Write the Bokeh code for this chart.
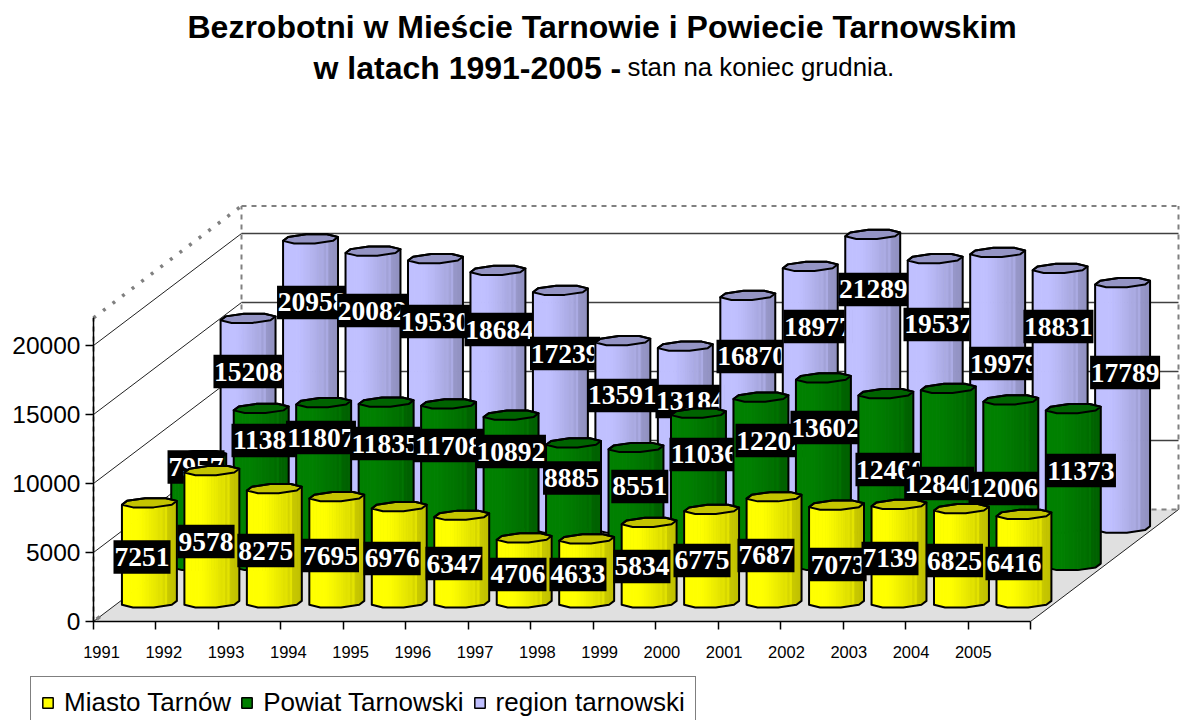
import numpy as np
from bokeh.core.properties import value
from bokeh.embed import file_html
from bokeh.models import (BasicTickFormatter, FixedTicker, Label, Legend, LegendItem,
                          LinearAxis, Range1d)
from bokeh.plotting import figure
from bokeh.resources import INLINE

YEARS = list(range(1991, 2006))
MIASTO = [7251, 9578, 8275, 7695, 6976, 6347, 4706, 4633, 5834, 6775, 7687, 7073, 7139, 6825, 6416]
POWIAT = [7957, 11380, 11807, 11835, 11708, 10892, 8885, 8551, 11036, 12202, 13602, 12460, 12840, 12006, 11373]
REGION = [15208, 20958, 20082, 19530, 18684, 17239, 13591, 13184, 16870, 18977, 21289, 19537, 19979, 18831, 17789]
VALUE_TICKS = [0, 5000, 10000, 15000, 20000]
AXIS_MAX = 22000

# hand-moved data labels of the original: shift in pixels from the middle of each cylinder
MIASTO_DX = [-7.4, -5.8, -8.5, -6.3, -7.1, -7.8, -6.2, -8.7, -7.2, -9.6, -8.1, 1.6, -9, -7, -10]
MIASTO_DY = [4.2, 4.8, 4.8, 5.8, 3.8, 4.5, 4.1, 3.6, 3.9, 4.4, 5.7, 10.5, 4.9, 4.8, 4.9]
POWIAT_DX = [-2.7, 5.3, -2.7, -.9, -.1, -.1, -2, 3.8, 6, 9.6, 2.1, 4.6, -9.1, -7.3, 7.7]
POWIAT_DY = [-43.6, -46.5, -46.5, -40.3, -39.2, -38.8, -26.2, -20, -34.9, -40.8, -44.1, -10, 6.6, 5.8, -16.5]
REGION_DX = [.4, 1.5, -.8, -.3, 1.6, 4.6, -.4, 5.1, 3.7, 8.2, .7, 3.3, 6.8, -1.7, 2.5]
REGION_DY = [-51.7, -81.1, -79.1, -71.9, -69.7, -55.7, -38.9, -35.7, -55.3, -70.7, -91.8, -68.9, -26.8, -71.7, -32.9]

W, H = 1183, 720
LEFT, BOTTOM = 93.0, 621.0            # canvas pixels of the front-left floor corner
SX = 937 / 15                         # pixels per category
SY = 276 / 20000                      # pixels per unit of value
DEPTH_X, DEPTH_Y = 148 / SX, 112 / SY # full floor depth in data units


def px_x(px):
    return (px - LEFT) / SX


def px_y(py):
    return (BOTTOM - py) / SY


p = figure(width=W, height=H, output_backend="svg", toolbar_location=None,
           x_axis_type=None, y_axis_type=None,
           x_range=Range1d(px_x(0), px_x(W)),
           y_range=Range1d(px_y(H), px_y(0)),
           min_border_left=0, min_border_right=0, min_border_top=0, min_border_bottom=0)
p.outline_line_color = None
p.background_fill_color = "white"
p.border_fill_color = "white"

# axes
yax = LinearAxis(fixed_location=0, ticker=FixedTicker(ticks=VALUE_TICKS), bounds=(0, AXIS_MAX),
                 major_tick_in=0, major_tick_out=8, minor_tick_line_color=None,
                 major_label_standoff=5, major_label_text_font="Liberation Sans",
                 major_label_text_font_size="24.5px", major_label_text_color="black",
                 axis_line_color="black", axis_line_width=1.5, major_tick_line_color="black",
                 major_tick_line_width=1.5)
p.add_layout(yax, "left")
tick_ax = LinearAxis(fixed_location=0, ticker=FixedTicker(ticks=list(range(16))), bounds=(0, 15),
                     major_tick_in=0, major_tick_out=8, minor_tick_line_color=None,
                     major_label_text_font_size="0px", major_label_standoff=0,
                     major_label_text_color=None,
                     axis_line_color="black", axis_line_width=1.5, major_tick_line_color="black",
                     major_tick_line_width=1.5)
p.add_layout(tick_ax, "below")
YEAR_STEP = 62.27
p.extra_x_ranges["years"] = Range1d(YEARS[0] - 101 / YEAR_STEP, YEARS[0] + (W - 101) / YEAR_STEP)
year_ax = LinearAxis(fixed_location=0, x_range_name="years", ticker=FixedTicker(ticks=YEARS),
                     formatter=BasicTickFormatter(use_scientific=False, precision=0),
                     axis_line_color=None, major_tick_line_color=None, minor_tick_line_color=None,
                     major_tick_in=0, major_tick_out=0, major_label_standoff=24,
                     major_label_text_font="Liberation Sans", major_label_text_font_size="16.5px",
                     major_label_text_color="black")
p.add_layout(year_ax, "below")

# walls, floor
GRAY = "#808080"
p.patch([0, 15, 15 + DEPTH_X, DEPTH_X], [0, 0, DEPTH_Y, DEPTH_Y], fill_color="#E0E0E0", line_color=None)
dash = dict(line_color=GRAY, line_width=2, line_dash="5 5")
p.line([DEPTH_X, 15 + DEPTH_X], [AXIS_MAX + DEPTH_Y] * 2, **dash)
p.line([15 + DEPTH_X] * 2, [DEPTH_Y, AXIS_MAX + DEPTH_Y], **dash)
p.line([DEPTH_X] * 2, [DEPTH_Y, AXIS_MAX + DEPTH_Y], **dash)
p.line([DEPTH_X, 15 + DEPTH_X], [DEPTH_Y, DEPTH_Y], **dash)
p.line([0, DEPTH_X], [AXIS_MAX, AXIS_MAX + DEPTH_Y], line_color=GRAY, line_width=3.5, line_dash="3 9")
p.line([0, 0], [0, AXIS_MAX], **dash)
for t in VALUE_TICKS:
    p.line([0, DEPTH_X], [t, t + DEPTH_Y], line_color="#202020", line_width=1)
    if t:
        p.line([DEPTH_X, 15 + DEPTH_X], [t + DEPTH_Y] * 2, line_color="#404040", line_width=1.3)
p.line([15, 15 + DEPTH_X], [0, DEPTH_Y], line_color="#202020", line_width=1)
p.line([0, DEPTH_X], [0, DEPTH_Y], line_color=GRAY, line_width=3.5, line_dash="4 1000", line_dash_offset=-4)

# cylinder shape
ANG = np.radians(22.5 + 45 * np.arange(8))
RX = 27 / SX
RD = 6.6 / 148
RIM_X = RX * np.cos(ANG) + RD * DEPTH_X * np.sin(ANG)
RIM_Y = RD * DEPTH_Y * np.sin(ANG)
LOWER = [4, 5, 6, 7, 0]     # left extreme to right extreme, along the front
UPPER = [1, 2, 3]           # back of the rim, right to left
SHADE_F = [0, .30, .42, .58, .70, .715, .735, .80, .815, .83, 1]
SHADE_V = [1, 1, .97, .92, .88, .96, .86, .83, .90, .79, .75]
EDGES = np.linspace(0, 1, 25)
TOP_FACTOR = .77


def shade(rgb, k):
    return "#%02x%02x%02x" % tuple(int(round(c * k)) for c in rgb)


def draw_series(values, frac, rgb, dxs, dys):
    for i, v in enumerate(values):
        cx = i + .5 + frac * DEPTH_X
        base = frac * DEPTH_Y
        xs, ys, fills, lines, widths, alphas = [], [], [], [], [], []
        chain_x = cx + RIM_X[LOWER]
        chain_y = base + RIM_Y[LOWER]
        x0, x1 = chain_x[0], chain_x[-1]
        for a, b in zip(EDGES[:-1], EDGES[1:]):
            xa, xb = x0 + a * (x1 - x0), x0 + b * (x1 - x0)
            ya, yb = np.interp([xa, xb], chain_x, chain_y)
            xs.append([xa, xb, xb, xa])
            ys.append([ya, yb, yb + v, ya + v])
            c = shade(rgb, float(np.interp((a + b) / 2, SHADE_F, SHADE_V)))
            fills.append(c); lines.append(c); widths.append(1); alphas.append(1)
        xs.append(list(cx + RIM_X))
        ys.append(list(base + v + RIM_Y))
        fills.append(shade(rgb, TOP_FACTOR)); lines.append("black"); widths.append(2); alphas.append(1)
        # silhouette: front of the foot, then the back of the rim
        xs.append(list(chain_x) + [chain_x[-1]] + list(cx + RIM_X[UPPER]) + [chain_x[0]])
        ys.append(list(chain_y) + [chain_y[-1] + v] + list(base + v + RIM_Y[UPPER]) + [chain_y[0] + v])
        fills.append("black"); lines.append("black"); widths.append(2); alphas.append(0)
        p.patches(xs="xs", ys="ys", source=dict(xs=xs, ys=ys, fc=fills, lc=lines, lw=widths, fa=alphas),
                  fill_color="fc", line_color="lc", line_width="lw", fill_alpha="fa", line_join="round")
        lx = cx + dxs[i] / SX
        ly = base + v / 2 - dys[i] / SY
        label = str(v)
        p.rect(x=[lx], y=[ly], width=[14 * len(label) + (1 if len(label) == 4 else 0)], height=[33.5],
               width_units="screen", height_units="screen", fill_color="black", line_color=None)
        p.text(x=[lx], y=[ly], text=[label], text_color="white", text_font=value("Liberation Serif"),
               text_font_style="bold", text_font_size="27.5px", text_align="center", text_baseline="middle")


draw_series(REGION, 5 / 6, (192, 192, 255), REGION_DX, REGION_DY)
draw_series(POWIAT, 3 / 6, (0, 128, 0), POWIAT_DX, POWIAT_DY)
draw_series(MIASTO, 1 / 6, (255, 255, 0), MIASTO_DX, MIASTO_DY)

# legend
items = []
nan = float("nan")
for name, col in (("Miasto Tarnów", "#FFFF00"), ("Powiat Tarnowski", "#008000"), ("region tarnowski", "#C0C0FF")):
    r = p.quad(left=[nan], right=[nan], top=[nan], bottom=[nan], fill_color=col, line_color="black", line_width=1.5)
    items.append(LegendItem(label=name, renderers=[r]))
legend = Legend(items=items, orientation="horizontal", location=(30, -9),
                margin=0, padding=10, spacing=9, glyph_width=13, glyph_height=13, label_standoff=10,
                label_height=24, label_text_font="Liberation Sans", label_text_font_size="26px",
                label_text_color="black", border_line_color="black", border_line_width=1.5,
                background_fill_color="white", background_fill_alpha=1)
p.add_layout(legend, "center")

# titles
def caption(text, px, py, size, style):
    p.add_layout(Label(x=px_x(px), y=px_y(py), text=text, text_font="Liberation Sans", text_font_size=size,
                       text_font_style=style, text_color="black", text_align="left",
                       text_baseline="alphabetic"))


caption("Bezrobotni w Mieście Tarnowie i Powiecie Tarnowskim", 187, 26, "32px", "bold")
caption("w latach 1991-2005 - ", 313, 67, "32px", "bold")
caption("stan na koniec grudnia.", 627, 66, "25.8px", "normal")

open("out.html", "w").write(file_html(p, INLINE))
